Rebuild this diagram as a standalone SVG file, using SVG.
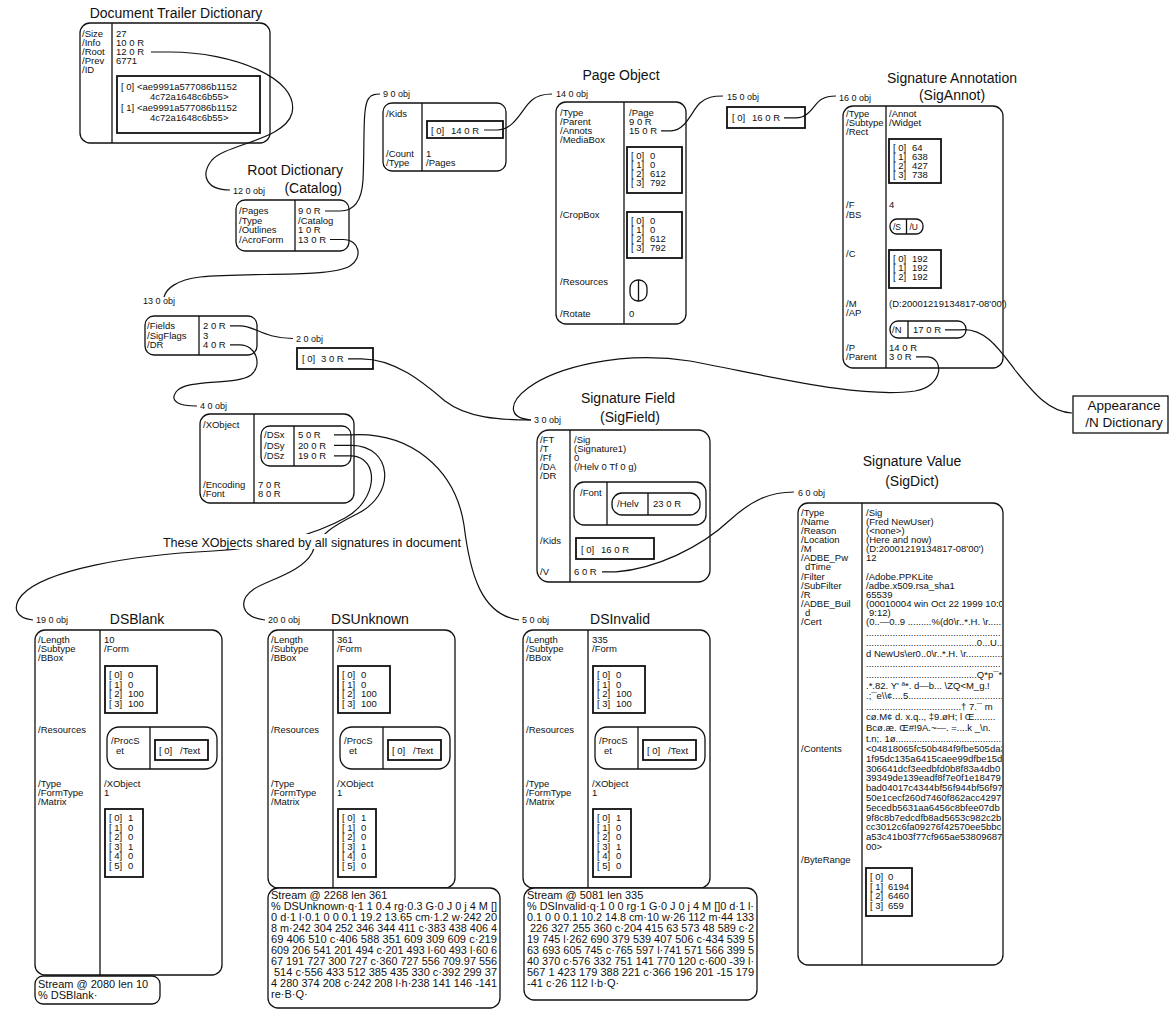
<svg xmlns="http://www.w3.org/2000/svg" width="1170" height="1012" viewBox="0 0 1170 1012">
<style>
text{font-family:"Liberation Sans",Arial,sans-serif;font-size:9.5px;fill:#111}
.h{font-size:14px}
.lb{font-size:9px}
.s{font-size:11px}
.sm{font-size:8.5px}
.ap{font-size:13.5px}
.box{fill:#fff;stroke:#111;stroke-width:1.3}
.arr{fill:#fff;stroke:#111;stroke-width:1.8}
.ln{stroke:#111;stroke-width:1.3;fill:none}
.c{fill:none;stroke:#111;stroke-width:1.2}
.m{text-anchor:middle}
.e{text-anchor:end}
</style>
<defs>
<clipPath id="cv"><rect x="863" y="505" width="139" height="458"/></clipPath>
</defs>
<rect width="1170" height="1012" fill="#fff"/>

<g id="trailer">
<text class="h m" x="176" y="18">Document Trailer Dictionary</text>
<rect class="box" x="80" y="23" width="190" height="120" rx="10"/>
<line class="ln" x1="112" y1="23" x2="112" y2="143"/>
<text x="82" y="37">/Size</text><text x="116" y="37">27</text>
<text x="82" y="46">/Info</text><text x="116" y="46">10 0 R</text>
<text x="82" y="55">/Root</text><text x="116" y="55">12 0 R</text>
<text x="82" y="64">/Prev</text><text x="116" y="64">6771</text>
<text x="82" y="73">/ID</text>
<rect class="arr" x="117" y="76" width="143" height="57"/>
<text x="121" y="90">[ 0]</text><text x="137" y="90">&lt;ae9991a577086b1152</text>
<text x="150" y="100">4c72a1648c6b55&gt;</text>
<text x="121" y="111">[ 1]</text><text x="137" y="111">&lt;ae9991a577086b1152</text>
<text x="150" y="121">4c72a1648c6b55&gt;</text>
</g>

<g id="root">
<text class="h e" x="343" y="175">Root Dictionary</text>
<text class="h e" x="342" y="193">(Catalog)</text>
<text class="lb" x="233" y="194">12 0 obj</text>
<rect class="box" x="236" y="200" width="113" height="51" rx="9"/>
<line class="ln" x1="295" y1="200" x2="295" y2="251"/>
<text x="239" y="214">/Pages</text><text x="298" y="214">9 0 R</text>
<text x="239" y="223.5">/Type</text><text x="298" y="223.5">/Catalog</text>
<text x="239" y="233">/Outlines</text><text x="298" y="233">1 0 R</text>
<text x="239" y="242.5">/AcroForm</text><text x="298" y="242.5">13 0 R</text>
</g>

<g id="obj9">
<text class="lb" x="383" y="97">9 0 obj</text>
<rect class="box" x="383" y="103" width="123" height="68" rx="9"/>
<line class="ln" x1="422" y1="103" x2="422" y2="171"/>
<text x="386" y="117">/Kids</text>
<rect class="arr" x="427" y="121" width="76" height="17"/>
<text x="431" y="133.5">[ 0]</text><text x="451" y="133.5">14 0 R</text>
<text x="386" y="157">/Count</text><text x="426" y="157">1</text>
<text x="386" y="166">/Type</text><text x="426" y="166">/Pages</text>
</g>

<g id="page">
<text class="h m" x="621" y="80">Page Object</text>
<text class="lb" x="556" y="97">14 0 obj</text>
<rect class="box" x="556" y="102" width="130" height="222" rx="10"/>
<line class="ln" x1="624" y1="102" x2="624" y2="324"/>
<text x="560" y="116">/Type</text><text x="629" y="116">/Page</text>
<text x="560" y="125">/Parent</text><text x="629" y="125">9 0 R</text>
<text x="560" y="134">/Annots</text><text x="629" y="134">15 0 R</text>
<text x="560" y="143">/MediaBox</text>
<rect class="arr" x="627" y="147" width="55" height="46"/>
<text x="631" y="159">[ 0]</text><text x="650" y="159">0</text>
<text x="631" y="168">[ 1]</text><text x="650" y="168">0</text>
<text x="631" y="177">[ 2]</text><text x="650" y="177">612</text>
<text x="631" y="186">[ 3]</text><text x="650" y="186">792</text>
<text x="560" y="218">/CropBox</text>
<rect class="arr" x="627" y="212" width="55" height="46"/>
<text x="631" y="224">[ 0]</text><text x="650" y="224">0</text>
<text x="631" y="233">[ 1]</text><text x="650" y="233">0</text>
<text x="631" y="242">[ 2]</text><text x="650" y="242">612</text>
<text x="631" y="251">[ 3]</text><text x="650" y="251">792</text>
<text x="560" y="285">/Resources</text>
<rect class="box" x="630" y="280" width="17" height="21" rx="8"/>
<line class="ln" x1="638.5" y1="280" x2="638.5" y2="301"/>
<text x="560" y="317">/Rotate</text><text x="629" y="317">0</text>
</g>

<g id="obj15">
<text class="lb" x="727" y="100">15 0 obj</text>
<rect class="arr" x="727" y="107" width="78" height="21"/>
<text x="732" y="121">[ 0]</text><text x="752" y="121">16 0 R</text>
</g>

<g id="sigannot">
<text class="h m" x="952" y="83">Signature Annotation</text>
<text class="h m" x="952" y="100">(SigAnnot)</text>
<text class="lb" x="839" y="101">16 0 obj</text>
<rect class="box" x="843" y="106" width="160" height="262" rx="10"/>
<line class="ln" x1="886" y1="106" x2="886" y2="368"/>
<text x="846" y="117">/Type</text><text x="889" y="117">/Annot</text>
<text x="846" y="126">/Subtype</text><text x="889" y="126">/Widget</text>
<text x="846" y="135">/Rect</text>
<rect class="arr" x="889" y="139" width="52" height="44"/>
<text x="893" y="151">[ 0]</text><text x="912" y="151">64</text>
<text x="893" y="160">[ 1]</text><text x="912" y="160">638</text>
<text x="893" y="169">[ 2]</text><text x="912" y="169">427</text>
<text x="893" y="178">[ 3]</text><text x="912" y="178">738</text>
<text x="846" y="208">/F</text><text x="889" y="208">4</text>
<text x="846" y="218">/BS</text>
<rect class="box" x="890" y="219" width="33" height="15" rx="7"/>
<line class="ln" x1="906.5" y1="219" x2="906.5" y2="234"/>
<text class="sm" x="893" y="230">/S</text><text class="sm" x="909.5" y="230">/U</text>
<text x="846" y="257">/C</text>
<rect class="arr" x="889" y="250" width="52" height="38"/>
<text x="893" y="262">[ 0]</text><text x="912" y="262">192</text>
<text x="893" y="271">[ 1]</text><text x="912" y="271">192</text>
<text x="893" y="280">[ 2]</text><text x="912" y="280">192</text>
<text x="846" y="307">/M</text><text x="889" y="307">(D:20001219134817-08'00')</text>
<text x="846" y="316">/AP</text>
<rect class="box" x="890" y="321" width="76" height="17" rx="8"/>
<line class="ln" x1="908" y1="321" x2="908" y2="338"/>
<text x="892" y="333">/N</text><text x="913" y="333">17 0 R</text>
<text x="846" y="351">/P</text><text x="889" y="351">14 0 R</text>
<text x="846" y="360">/Parent</text><text x="889" y="360">3 0 R</text>
</g>

<g id="appearance">
<rect class="box" x="1073" y="396" width="95" height="37"/>
<text class="ap m" x="1124" y="410">Appearance</text>
<text class="ap m" x="1124" y="427">/N Dictionary</text>
</g>

<g id="obj13">
<text class="lb" x="143" y="304">13 0 obj</text>
<rect class="box" x="145" y="316" width="112" height="39" rx="9"/>
<line class="ln" x1="199" y1="316" x2="199" y2="355"/>
<text x="147" y="329">/Fields</text><text x="203" y="329">2 0 R</text>
<text x="147" y="338.5">/SigFlags</text><text x="203" y="338.5">3</text>
<text x="147" y="348">/DR</text><text x="203" y="348">4 0 R</text>
</g>

<g id="obj2">
<text class="lb" x="296" y="342">2 0 obj</text>
<rect class="arr" x="297" y="348" width="76" height="21"/>
<text x="302" y="362">[ 0]</text><text x="321" y="362">3 0 R</text>
</g>

<g id="obj4">
<text class="lb" x="200" y="409">4 0 obj</text>
<rect class="box" x="200" y="414" width="154" height="89" rx="10"/>
<line class="ln" x1="254" y1="414" x2="254" y2="503"/>
<text x="203" y="428">/XObject</text>
<rect class="box" x="261" y="426" width="90" height="40" rx="9"/>
<line class="ln" x1="294" y1="426" x2="294" y2="466"/>
<text x="264" y="438">/DSx</text><text x="298" y="438">5 0 R</text>
<text x="264" y="448.5">/DSy</text><text x="298" y="448.5">20 0 R</text>
<text x="264" y="459">/DSz</text><text x="298" y="459">19 0 R</text>
<text x="203" y="488">/Encoding</text><text x="258" y="488">7 0 R</text>
<text x="203" y="497">/Font</text><text x="258" y="497">8 0 R</text>
</g>

<g id="sigfield">
<text class="h m" x="628" y="403">Signature Field</text>
<text class="h m" x="630" y="422">(SigField)</text>
<text class="lb" x="534" y="423">3 0 obj</text>
<rect class="box" x="537" y="430" width="173" height="152" rx="12"/>
<line class="ln" x1="570" y1="430" x2="570" y2="582"/>
<text x="540" y="443">/FT</text><text x="574" y="443">/Sig</text>
<text x="540" y="452">/T</text><text x="574" y="452">(Signature1)</text>
<text x="540" y="461">/Ff</text><text x="574" y="461">0</text>
<text x="540" y="470">/DA</text><text x="574" y="470">(/Helv 0 Tf 0 g)</text>
<text x="540" y="479">/DR</text>
<rect class="box" x="574" y="482" width="132" height="43" rx="10"/>
<line class="ln" x1="607" y1="482" x2="607" y2="525"/>
<text x="580" y="496">/Font</text>
<rect class="box" x="612" y="493" width="88" height="22" rx="10"/>
<line class="ln" x1="648" y1="493" x2="648" y2="515"/>
<text x="617" y="507">/Helv</text><text x="653" y="507">23 0 R</text>
<text x="540" y="544">/Kids</text>
<rect class="arr" x="576" y="538" width="78" height="21"/>
<text x="581" y="552.5">[ 0]</text><text x="601" y="552.5">16 0 R</text>
<text x="540" y="575">/V</text><text x="574" y="575">6 0 R</text>
</g>

<g id="sigvalue">
<text class="h m" x="912" y="466">Signature Value</text>
<text class="h m" x="912" y="486">(SigDict)</text>
<text class="lb" x="798" y="496">6 0 obj</text>
<rect class="box" x="798" y="503" width="205" height="462" rx="10"/>
<line class="ln" x1="862" y1="503" x2="862" y2="965"/>
<text x="801" y="516">/Type</text>
<text x="801" y="525">/Name</text>
<text x="801" y="534">/Reason</text>
<text x="801" y="543">/Location</text>
<text x="801" y="552">/M</text>
<text x="801" y="561">/ADBE_Pw</text>
<text x="805" y="570">dTime</text>
<text x="801" y="580">/Filter</text>
<text x="801" y="589">/SubFilter</text>
<text x="801" y="598">/R</text>
<text x="801" y="607">/ADBE_Buil</text>
<text x="805" y="616">d</text>
<text x="801" y="625">/Cert</text>
<text x="801" y="752">/Contents</text>
<text x="801" y="863">/ByteRange</text>
<g clip-path="url(#cv)">
<text x="866" y="516">/Sig</text>
<text x="866" y="525">(Fred NewUser)</text>
<text x="866" y="534">(&lt;none&gt;)</text>
<text x="866" y="543">(Here and now)</text>
<text x="866" y="552">(D:20001219134817-08'00')</text>
<text x="866" y="561">12</text>
<text x="866" y="580">/Adobe.PPKLite</text>
<text x="866" y="589">/adbe.x509.rsa_sha1</text>
<text x="866" y="598">65539</text>
<text x="866" y="607">(00010004 win Oct 22 1999 10:0</text>
<text x="869" y="616">9:12)</text>
<text x="866" y="625">(0..—0..9 .........%(d0\r..*.H. \r...........</text>
<text x="866" y="635.6">...................................................</text>
<text x="866" y="646.2">..........................................0...U.....Fre</text>
<text x="866" y="656.8">d NewUs\er0..0\r..*.H. \r....................</text>
<text x="866" y="667.4">...................................................</text>
<text x="866" y="678">..........................................Q*p¯*˚...—`.[D.</text>
<text x="866" y="688.6">.*.82. Y'  ª*. d—b... \ZQ&lt;M_g.!</text>
<text x="866" y="699.2">.;¯e\\¢....5.........................................</text>
<text x="866" y="709.8">....................................† 7.¯ m</text>
<text x="866" y="720.4">cø.M¢ d. x.q.., ‡9.øH; l Œ........</text>
<text x="866" y="731">Bcø.æ. Œ#!9A.~—. =....k _\n.</text>
<text x="866" y="741.6">t.n;. 1ø.........................................</text>
<text x="866" y="752">&lt;04818065fc50b484f9fbe505da3</text>
<text x="866" y="761.8">1f95dc135a6415caee99dfbe15d</text>
<text x="866" y="771.6">306641dcf3eedbfd0b8f83a4db0</text>
<text x="866" y="781.4">39349de139eadf8f7e0f1e18479</text>
<text x="866" y="791.2">bad04017c4344bf56f944bf56f97</text>
<text x="866" y="801">50e1cecf260d7460f862acc4297</text>
<text x="866" y="810.8">5ecedb5631aa6456c8bfee07db</text>
<text x="866" y="820.6">9f8c8b7edcdfb8ad5653c982c2b</text>
<text x="866" y="830.4">cc3012c6fa09276f42570ee5bbc</text>
<text x="866" y="840.2">a53c41b03f77cf965ae53809687</text>
<text x="866" y="850">00&gt;</text>
</g>
<rect class="arr" x="866" y="868" width="46" height="48"/>
<text x="870" y="880">[ 0]</text><text x="888" y="880">0</text>
<text x="870" y="889.5">[ 1]</text><text x="888" y="889.5">6194</text>
<text x="870" y="899">[ 2]</text><text x="888" y="899">6460</text>
<text x="870" y="908.5">[ 3]</text><text x="888" y="908.5">659</text>
</g>

<g id="dsblank">
<text class="lb" x="36" y="623">19 0 obj</text>
<text class="h m" x="137" y="624">DSBlank</text>
<rect class="box" x="35" y="630" width="187" height="345" rx="10"/>
<line class="ln" x1="100" y1="630" x2="100" y2="975"/>
<text x="38" y="643">/Length</text><text x="104" y="643">10</text>
<text x="38" y="652">/Subtype</text><text x="104" y="652">/Form</text>
<text x="38" y="661">/BBox</text>
<rect class="arr" x="105" y="666" width="52" height="47"/>
<text x="109" y="678">[ 0]</text><text x="128" y="678">0</text>
<text x="109" y="687.5">[ 1]</text><text x="128" y="687.5">0</text>
<text x="109" y="697">[ 2]</text><text x="128" y="697">100</text>
<text x="109" y="706.5">[ 3]</text><text x="128" y="706.5">100</text>
<text x="38" y="733">/Resources</text>
<rect class="box" x="107" y="727" width="110" height="42" rx="12"/>
<line class="ln" x1="150" y1="727" x2="150" y2="769"/>
<text x="111" y="744">/ProcS</text><text x="116" y="754">et</text>
<rect class="arr" x="155" y="740" width="53" height="20"/>
<text x="159" y="754">[ 0]</text><text x="180" y="754">/Text</text>
<text x="38" y="787">/Type</text><text x="104" y="787">/XObject</text>
<text x="38" y="796">/FormType</text><text x="104" y="796">1</text>
<text x="38" y="805">/Matrix</text>
<rect class="arr" x="105" y="809" width="38" height="68"/>
<text x="109" y="821">[ 0]</text><text x="128" y="821">1</text>
<text x="109" y="830.6">[ 1]</text><text x="128" y="830.6">0</text>
<text x="109" y="840.2">[ 2]</text><text x="128" y="840.2">0</text>
<text x="109" y="849.8">[ 3]</text><text x="128" y="849.8">1</text>
<text x="109" y="859.4">[ 4]</text><text x="128" y="859.4">0</text>
<text x="109" y="869">[ 5]</text><text x="128" y="869">0</text>
<rect class="box" x="35" y="976" width="125" height="28" rx="8"/>
<text class="s" x="38" y="988">Stream @ 2080 len 10</text>
<text class="s" x="38" y="999">% DSBlank·</text>
</g>

<g id="dsunknown">
<text class="lb" x="268" y="623">20 0 obj</text>
<text class="h m" x="370" y="624">DSUnknown</text>
<rect class="box" x="268" y="630" width="187" height="258" rx="10"/>
<line class="ln" x1="333" y1="630" x2="333" y2="888"/>
<text x="271" y="643">/Length</text><text x="337" y="643">361</text>
<text x="271" y="652">/Subtype</text><text x="337" y="652">/Form</text>
<text x="271" y="661">/BBox</text>
<rect class="arr" x="338" y="666" width="52" height="47"/>
<text x="342" y="678">[ 0]</text><text x="361" y="678">0</text>
<text x="342" y="687.5">[ 1]</text><text x="361" y="687.5">0</text>
<text x="342" y="697">[ 2]</text><text x="361" y="697">100</text>
<text x="342" y="706.5">[ 3]</text><text x="361" y="706.5">100</text>
<text x="271" y="733">/Resources</text>
<rect class="box" x="340" y="727" width="110" height="42" rx="12"/>
<line class="ln" x1="383" y1="727" x2="383" y2="769"/>
<text x="344" y="744">/ProcS</text><text x="349" y="754">et</text>
<rect class="arr" x="388" y="740" width="53" height="20"/>
<text x="392" y="754">[ 0]</text><text x="413" y="754">/Text</text>
<text x="271" y="787">/Type</text><text x="337" y="787">/XObject</text>
<text x="271" y="796">/FormType</text><text x="337" y="796">1</text>
<text x="271" y="805">/Matrix</text>
<rect class="arr" x="338" y="809" width="38" height="68"/>
<text x="342" y="821">[ 0]</text><text x="361" y="821">1</text>
<text x="342" y="830.6">[ 1]</text><text x="361" y="830.6">0</text>
<text x="342" y="840.2">[ 2]</text><text x="361" y="840.2">0</text>
<text x="342" y="849.8">[ 3]</text><text x="361" y="849.8">1</text>
<text x="342" y="859.4">[ 4]</text><text x="361" y="859.4">0</text>
<text x="342" y="869">[ 5]</text><text x="361" y="869">0</text>
<rect class="box" x="268" y="888" width="232" height="120" rx="10"/>
<text class="s" x="271" y="899">Stream @ 2268 len 361</text>
<text class="s" x="271" y="910" textLength="226" lengthAdjust="spacingAndGlyphs">% DSUnknown·q·1 1 0.4 rg·0.3 G·0 J 0 j 4 M []</text>
<text class="s" x="271" y="921" textLength="226" lengthAdjust="spacingAndGlyphs">0 d·1 l·0.1 0 0 0.1 19.2 13.65 cm·1.2 w·242 20</text>
<text class="s" x="271" y="932" textLength="226" lengthAdjust="spacingAndGlyphs">8 m·242 304 252 346 344 411 c·383 438 406 4</text>
<text class="s" x="271" y="943" textLength="226" lengthAdjust="spacingAndGlyphs">69 406 510 c·406 588 351 609 309 609 c·219</text>
<text class="s" x="271" y="954" textLength="226" lengthAdjust="spacingAndGlyphs">609 206 541 201 494 c·201 493 l·60 493 l·60 6</text>
<text class="s" x="271" y="965" textLength="226" lengthAdjust="spacingAndGlyphs">67 191 727 300 727 c·360 727 556 709.97 556</text>
<text class="s" x="274" y="976" textLength="223" lengthAdjust="spacingAndGlyphs">514 c·556 433 512 385 435 330 c·392 299 37</text>
<text class="s" x="271" y="987" textLength="226" lengthAdjust="spacingAndGlyphs">4 280 374 208 c·242 208 l·h·238 141 146 -141</text>
<text class="s" x="271" y="998">re·B·Q·</text>
</g>

<g id="dsinvalid">
<text class="lb" x="522" y="623">5 0 obj</text>
<text class="h m" x="620" y="624">DSInvalid</text>
<rect class="box" x="523" y="630" width="187" height="258" rx="10"/>
<line class="ln" x1="588" y1="630" x2="588" y2="888"/>
<text x="526" y="643">/Length</text><text x="592" y="643">335</text>
<text x="526" y="652">/Subtype</text><text x="592" y="652">/Form</text>
<text x="526" y="661">/BBox</text>
<rect class="arr" x="593" y="666" width="52" height="47"/>
<text x="597" y="678">[ 0]</text><text x="616" y="678">0</text>
<text x="597" y="687.5">[ 1]</text><text x="616" y="687.5">0</text>
<text x="597" y="697">[ 2]</text><text x="616" y="697">100</text>
<text x="597" y="706.5">[ 3]</text><text x="616" y="706.5">100</text>
<text x="526" y="733">/Resources</text>
<rect class="box" x="595" y="727" width="110" height="42" rx="12"/>
<line class="ln" x1="638" y1="727" x2="638" y2="769"/>
<text x="599" y="744">/ProcS</text><text x="604" y="754">et</text>
<rect class="arr" x="643" y="740" width="53" height="20"/>
<text x="647" y="754">[ 0]</text><text x="668" y="754">/Text</text>
<text x="526" y="787">/Type</text><text x="592" y="787">/XObject</text>
<text x="526" y="796">/FormType</text><text x="592" y="796">1</text>
<text x="526" y="805">/Matrix</text>
<rect class="arr" x="593" y="809" width="38" height="68"/>
<text x="597" y="821">[ 0]</text><text x="616" y="821">1</text>
<text x="597" y="830.6">[ 1]</text><text x="616" y="830.6">0</text>
<text x="597" y="840.2">[ 2]</text><text x="616" y="840.2">0</text>
<text x="597" y="849.8">[ 3]</text><text x="616" y="849.8">1</text>
<text x="597" y="859.4">[ 4]</text><text x="616" y="859.4">0</text>
<text x="597" y="869">[ 5]</text><text x="616" y="869">0</text>
<rect class="box" x="524" y="888" width="233" height="112" rx="10"/>
<text class="s" x="527" y="899">Stream @ 5081 len 335</text>
<text class="s" x="527" y="910" textLength="227" lengthAdjust="spacingAndGlyphs">% DSInvalid·q·1 0 0 rg·1 G·0 J 0 j 4 M []0 d·1 l·</text>
<text class="s" x="527" y="921" textLength="227" lengthAdjust="spacingAndGlyphs">0.1 0 0 0.1 10.2 14.8 cm·10 w·26 112 m·44 133</text>
<text class="s" x="530" y="932" textLength="224" lengthAdjust="spacingAndGlyphs">226 327 255 360 c·204 415 63 573 48 589 c·2</text>
<text class="s" x="527" y="943" textLength="227" lengthAdjust="spacingAndGlyphs">19 745 l·262 690 379 539 407 506 c·434 539 5</text>
<text class="s" x="527" y="954" textLength="227" lengthAdjust="spacingAndGlyphs">63 693 605 745 c·765 597 l·741 571 566 399 5</text>
<text class="s" x="527" y="965" textLength="227" lengthAdjust="spacingAndGlyphs">40 370 c·576 332 751 141 770 120 c·600 -39 l·</text>
<text class="s" x="527" y="976" textLength="227" lengthAdjust="spacingAndGlyphs">567 1 423 179 388 221 c·366 196 201 -15 179</text>
<text class="s" x="527" y="987">-41 c·26 112 l·b·Q·</text>
</g>

<g id="connectors">
<path class="c" d="M151,52 L170,52 C232,52 300,78 292,113 C285,140 226,144 212,160 C200,175 206,190 230,190"/>
<path class="c" d="M325,211 L340,211 C356,211 362,198 363,180 C365,140 362,106 369,98 C372,94 376,94 380,94"/>
<path class="c" d="M330,239.5 L343,239.5 C360,239.5 363,258 350,266 C330,278 250,272 200,277 C176,280 166,289 164,297"/>
<path class="c" d="M484,130 L497,130 C515,130 522,108 532,100 C538,95 544,94 552,94"/>
<path class="c" d="M661,130.8 L671,130.8 C686,130.8 692,110 700,103 C707,97 713,96 723,96"/>
<path class="c" d="M784,117.8 L796,117.8 C810,117.8 814,103 822,99 C827,96 831,96 836,96"/>
<path class="c" d="M945,329.8 L960,329.8 C985,327 1000,350 1015,370 C1035,395 1050,412 1072,413"/>
<path class="c" d="M916,356.8 L928,356.8 C944,358 944,386 915,391 C860,399 770,376 690,361 C620,350 555,368 528,388 C508,403 508,418 531,420"/>
<path class="c" d="M230,325.8 L240,325.8 C256,326 262,338 293,338.5"/>
<path class="c" d="M230,344.8 L240,344.8 C256,345 263,365 251,375 C236,386 186,378 176,392 C169,402 180,406 197,406"/>
<path class="c" d="M348,358.8 L360,358.8 C395,358 425,384 445,401 C467,418 500,420 531,420"/>
<path class="c" d="M602,571.8 L616,571.8 C655,569 700,548 730,520 C752,500 770,492 794,492"/>
<path class="c" d="M334,434.8 L352,434.8 C410,432 455,468 464,525 C470,575 482,615 519,620"/>
<path class="c" d="M334,445.3 L352,445.3 C392,446 398,495 355,515 C335,525 318,535 312,553 C302,572 268,580 254,589 C238,600 240,617 265,620"/>
<path class="c" d="M334,455.8 L352,455.8 C380,458 378,500 345,518 C318,533 270,548 213,551 C130,555 45,570 22,595 C12,607 15,618 33,620"/>
</g>

<g id="shared-note">
<rect x="160" y="534" width="303" height="15" fill="#fff"/>
<text class="m" x="312" y="547" style="font-size:12.6px">These XObjects shared by all signatures in document</text>
</g>
</svg>
